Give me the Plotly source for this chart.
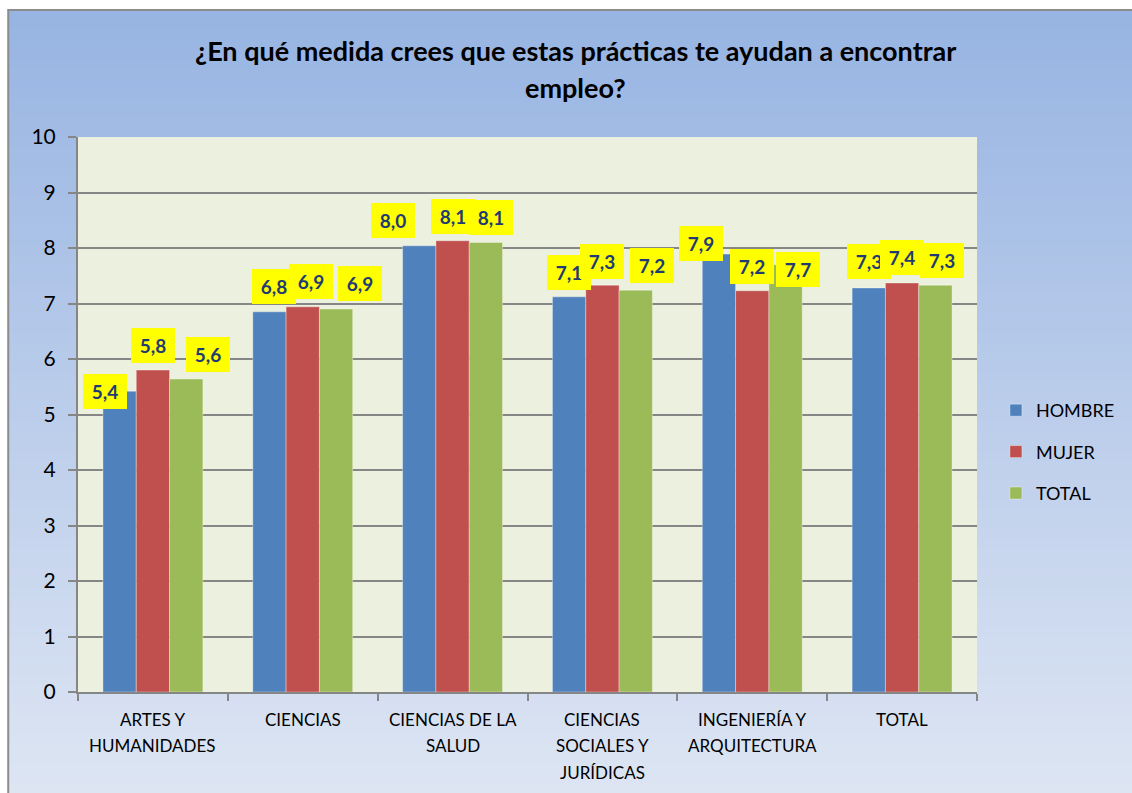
import plotly.graph_objects as go

categories = ["ARTES Y<br>HUMANIDADES", "CIENCIAS", "CIENCIAS DE LA<br>SALUD",
              "CIENCIAS<br>SOCIALES Y<br>JURÍDICAS", "INGENIERÍA Y<br>ARQUITECTURA", "TOTAL"]
hombre = [5.42, 6.85, 8.04, 7.12, 7.89, 7.28]
mujer = [5.80, 6.94, 8.13, 7.33, 7.23, 7.37]
total = [5.64, 6.90, 8.10, 7.24, 7.70, 7.33]
series_names = ["HOMBRE", "MUJER", "TOTAL"]
series_values = [hombre, mujer, total]
colors = ["#4F81BD", "#C0504D", "#9BBB59"]

# label offsets (px) per series per category: (xshift, yshift)
label_offsets = [
    [(-15, 0), (5, 25), (-26, 25), (0, 24), (-18, 11), (0, 26)],
    [(0, 25), (8, 25), (0, 24), (0, 24), (0, 24), (0, 25)],
    [(22, 24), (24, 26), (5, 25), (16, 25), (12, -5), (7, 25)],
]

W, H = 1132, 793
L, R, T, B = 78, 980, 137, 692
FONT = "Lato"

def px(x):
    return (x - L) / (R - L)

def py(y):
    return (B - y) / (B - T)

fig = go.Figure()
for name, vals, col in zip(series_names, series_values, colors):
    fig.add_trace(go.Bar(
        x=categories, y=vals, name=name, marker_color=col,
        marker_line=dict(width=1, color="rgba(255,255,255,0.35)"),
        legendgroup=name,
    ))

shapes = []
# gradient background
top_c = (151, 180, 226)
bot_c = (221, 229, 243)
n = 80
y0px, y1px = 10, H
for i in range(n):
    t = i / (n - 1)
    c = tuple(int(round(top_c[k] + (bot_c[k] - top_c[k]) * t)) for k in range(3))
    ya = y0px + (y1px - y0px) * i / n
    yb = y0px + (y1px - y0px) * (i + 1) / n + 1
    shapes.append(dict(type="rect", xref="paper", yref="paper", layer="below",
                       x0=px(8), x1=px(W + 5), y0=py(ya), y1=py(yb),
                       fillcolor="rgb(%d,%d,%d)" % c, line_width=0))
# frame border
shapes.append(dict(type="rect", xref="paper", yref="paper", layer="below",
                   x0=px(8), x1=px(W + 5), y0=py(10), y1=py(H + 5),
                   fillcolor="rgba(0,0,0,0)", line=dict(color="#8C8C8C", width=2)))
# plot area background
shapes.append(dict(type="rect", xref="paper", yref="paper", layer="below",
                   x0=0, x1=1, y0=0, y1=1, fillcolor="#EBF1DE", line_width=0))

annotations = []
for s, (vals, offs) in enumerate(zip(series_values, label_offsets)):
    for i, (cat, v) in enumerate(zip(categories, vals)):
        xs, ys = offs[i]
        annotations.append(dict(
            x=cat, y=v, xref="x", yref="y",
            text="<b>" + ("%.1f" % v).replace(".", ",") + "</b>",
            showarrow=False, bgcolor="#FFFF00", borderpad=0, borderwidth=0,
            width=44, height=35, xshift=(s - 1) * 33.4 + xs, yshift=ys,
            font=dict(family=FONT, size=19, color="#1F3B73"),
        ))

# category labels, one annotation per text line for Excel-like line spacing
for cat in categories:
    for k, line in enumerate(cat.split("<br>")):
        annotations.append(dict(
            x=cat, y=0, xref="x", yref="y", text=line, showarrow=False,
            yanchor="middle", yshift=-27 - 26.5 * k,
            font=dict(family=FONT, size=17, color="black"),
        ))

# title as two annotations for spacing control
title_lines = ["¿En qué medida crees que estas prácticas te ayudan a encontrar", "empleo?"]
for k, line in enumerate(title_lines):
    annotations.append(dict(
        x=px(577), y=py(50 + 37 * k), xref="paper", yref="paper", text="<b>" + line + "</b>",
        showarrow=False, xanchor="center", yanchor="middle",
        font=dict(family=FONT, size=27, color="black"),
    ))

fig.update_layout(
    width=W, height=H,
    margin=dict(l=L, r=W - R, t=T, b=H - B),
    paper_bgcolor="white", plot_bgcolor="rgba(0,0,0,0)",
    barmode="group", bargap=0.333, bargroupgap=0,
    legend=dict(x=px(999), y=py(452), xanchor="left", yanchor="middle",
                font=dict(family=FONT, size=18, color="black"),
                bgcolor="rgba(0,0,0,0)", tracegroupgap=15, itemwidth=30),
    shapes=shapes, annotations=annotations,
    showlegend=True,
)
fig.update_xaxes(showline=True, linecolor="#868686", linewidth=2,
                 ticks="outside", tickson="boundaries", ticklen=7, tickcolor="#868686",
                 tickwidth=2, showticklabels=False, showgrid=False)
fig.update_yaxes(range=[0, 10], dtick=1, showline=True, linecolor="#868686", linewidth=2,
                 ticks="outside", ticklen=8, tickcolor="#868686", tickwidth=2,
                 gridcolor="#868686", gridwidth=2, ticklabelstandoff=8,
                 tickfont=dict(family=FONT, size=21, color="black"),
                 zeroline=False)
fig.write_html("out.html", config={"displayModeBar": False},
               post_script="document.body.style.margin='0px';document.body.style.overflow='hidden';")
